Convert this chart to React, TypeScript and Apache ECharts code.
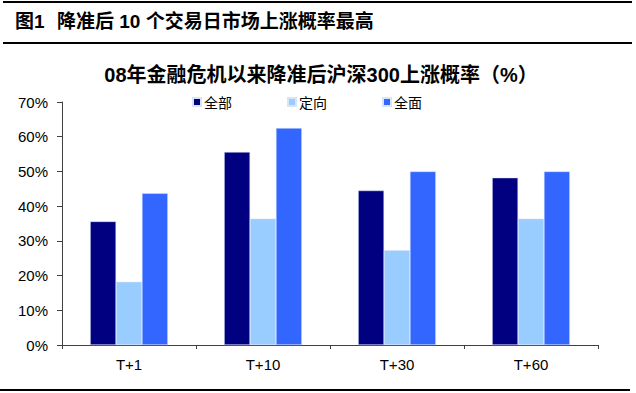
import React, { useEffect, useRef } from "react";
import * as echarts from "echarts";

const categories = ["T+1", "T+10", "T+30", "T+60"];
const seriesNames = ["全部", "定向", "全面"];
const allValues = [35.6, 55.6, 44.5, 48.2];
const targetedValues = [18.2, 36.4, 27.3, 36.4];
const fullValues = [43.7, 62.5, 50.0, 50.0];
const colors = ["#000080", "#99CCFF", "#3366FF"];
const yTicks = [0, 10, 20, 30, 40, 50, 60, 70];

export default function App() {
  const ref = useRef<HTMLDivElement>(null);
  useEffect(() => {
    if (!ref.current) return;
    const chart = echarts.init(ref.current, null, { renderer: "svg" });
    const data = [allValues, targetedValues, fullValues];
    chart.setOption({
      animation: false,
      backgroundColor: "#ffffff",
      title: {
        text: "08年金融危机以来降准后沪深300上涨概率（%）",
        left: 316,
        textAlign: "center",
        top: 60,
        textStyle: {
          fontFamily: "Arial, 'Noto Sans CJK SC', sans-serif",
          fontSize: 20,
          fontWeight: "bold",
          color: "#000",
        },
      },
      legend: {
        data: seriesNames,
        left: 192,
        top: 95,
        itemWidth: 8,
        itemHeight: 8,
        itemGap: 55,
        icon: "rect",
        textStyle: {
          fontFamily: "'Noto Sans CJK SC', sans-serif",
          fontSize: 14,
          color: "#000",
          padding: [0, 0, 0, -2],
        },
        padding: 0,
      },
      grid: { left: 62, right: 38, top: 102, bottom: 48, containLabel: false },
      xAxis: {
        type: "category",
        data: categories,
        axisLine: { lineStyle: { color: "#404040", width: 1 } },
        axisTick: { show: true, length: 4, alignWithLabel: false, lineStyle: { color: "#404040" } },
        axisLabel: {
          fontFamily: "Arial, 'Liberation Sans', sans-serif",
          fontSize: 15,
          color: "#000",
          margin: 12,
        },
      },
      yAxis: {
        type: "value",
        min: yTicks[0],
        max: yTicks[yTicks.length - 1],
        interval: 10,
        splitLine: { show: false },
        axisLine: { show: true, lineStyle: { color: "#404040", width: 1 } },
        axisTick: { show: true, length: 5, lineStyle: { color: "#404040" } },
        axisLabel: {
          formatter: "{value}%",
          fontFamily: "Arial, 'Liberation Sans', sans-serif",
          fontSize: 15,
          color: "#000",
          margin: 14,
        },
      },
      series: seriesNames.map((name, i) => ({
        name,
        type: "bar",
        data: data[i],
        barGap: "0%",
        barCategoryGap: "42%",
        itemStyle: { color: colors[i], borderColor: "#d8e4f8", borderWidth: 0.5 },
      })),
      graphic: [
        { type: "rect", shape: { x: 3, y: 1, width: 629, height: 2 }, style: { fill: "#000" } },
        { type: "rect", shape: { x: 3, y: 42, width: 629, height: 2 }, style: { fill: "#000" } },
        { type: "rect", shape: { x: 0, y: 389, width: 630, height: 2 }, style: { fill: "#000" } },
        {
          type: "text",
          x: 15,
          y: 12,
          style: {
            text: "图1",
            fontFamily: "Arial, 'Noto Sans CJK SC', sans-serif",
            fontSize: 19,
            fontWeight: "bold",
            fill: "#000",
          },
        },
        {
          type: "text",
          x: 57,
          y: 12,
          style: {
            text: "降准后 10 个交易日市场上涨概率最高",
            fontFamily: "Arial, 'Noto Sans CJK SC', sans-serif",
            fontSize: 19,
            fontWeight: "bold",
            fill: "#000",
          },
        },
      ],
    });
    return () => chart.dispose();
  }, []);
  return <div ref={ref} style={{ width: 636, height: 393, position: "absolute", left: 0, top: 0 }} />;
}
